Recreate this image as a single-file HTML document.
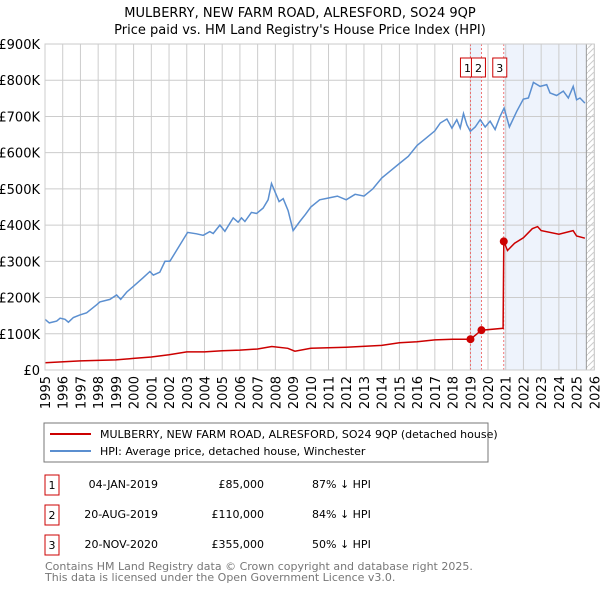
<!DOCTYPE html>
<html><head><meta charset="utf-8"><style>
body{margin:0;background:#fff;font-family:"DejaVu Sans","Liberation Sans",sans-serif;}
svg{display:block}
text{font-family:"DejaVu Sans","Liberation Sans",sans-serif;}
</style></head><body>
<svg id="c" width="600" height="590" xmlns="http://www.w3.org/2000/svg">
<text x="300" y="17" text-anchor="middle" font-size="13">MULBERRY, NEW FARM ROAD, ALRESFORD, SO24 9QP</text>
<text x="300" y="34" text-anchor="middle" font-size="13">Price paid vs. HM Land Registry's House Price Index (HPI)</text>
<g id="plot"></g>
<rect x="44" y="423" width="444" height="39" fill="none" stroke="#777"/>
<line x1="50" y1="434" x2="91" y2="434" stroke="#cc0000" stroke-width="2"/>
<text x="100" y="438" font-size="11">MULBERRY, NEW FARM ROAD, ALRESFORD, SO24 9QP (detached house)</text>
<line x1="50" y1="451" x2="91" y2="451" stroke="#5b8fd0" stroke-width="2"/>
<text x="100" y="455" font-size="11">HPI: Average price, detached house, Winchester</text>
<g font-size="11">
<rect x="45" y="475" width="14" height="20" fill="none" stroke="#cc0000"/><text x="52" y="489" text-anchor="middle">1</text>
<text x="158" y="488" text-anchor="end">04-JAN-2019</text><text x="264" y="488" text-anchor="end">£85,000</text><text x="312" y="488">87% ↓ HPI</text>
<rect x="45" y="505" width="14" height="20" fill="none" stroke="#cc0000"/><text x="52" y="519" text-anchor="middle">2</text>
<text x="158" y="518" text-anchor="end">20-AUG-2019</text><text x="264" y="518" text-anchor="end">£110,000</text><text x="312" y="518">84% ↓ HPI</text>
<rect x="45" y="535" width="14" height="20" fill="none" stroke="#cc0000"/><text x="52" y="549" text-anchor="middle">3</text>
<text x="158" y="548" text-anchor="end">20-NOV-2020</text><text x="264" y="548" text-anchor="end">£355,000</text><text x="312" y="548">50% ↓ HPI</text>
</g>
<text x="45" y="570" font-size="11" fill="#777">Contains HM Land Registry data © Crown copyright and database right 2025.</text>
<text x="45" y="581" font-size="11" fill="#777">This data is licensed under the Open Government Licence v3.0.</text>
</svg>
<script>
const yTicks=[0,100,200,300,400,500,600,700,800,900];
const yTickLabels=["£0","£100K","£200K","£300K","£400K","£500K","£600K","£700K","£800K","£900K"];
const years=[1995,1996,1997,1998,1999,2000,2001,2002,2003,2004,2005,2006,2007,2008,2009,2010,2011,2012,2013,2014,2015,2016,2017,2018,2019,2020,2021,2022,2023,2024,2025,2026];
const hpiT=[1995.0,1995.24,1995.66,1995.85,1996.13,1996.32,1996.6,1996.97,1997.35,1997.91,1998.1,1998.66,1999.04,1999.27,1999.61,2000.08,2000.55,2000.92,2001.11,2001.48,2001.77,2002.05,2002.42,2003.05,2003.55,2003.93,2004.3,2004.49,2004.87,2005.15,2005.62,2005.9,2006.09,2006.28,2006.65,2006.94,2007.31,2007.59,2007.78,2008.21,2008.44,2008.72,2009.0,2009.38,2009.7,2010,2010.5,2011,2011.5,2012,2012.5,2013,2013.5,2014,2014.5,2015,2015.5,2016,2016.5,2017,2017.31,2017.68,2017.96,2018.24,2018.43,2018.62,2018.81,2019.0,2019.28,2019.56,2019.84,2020.12,2020.4,2020.68,2020.91,2021.21,2021.62,2021.99,2022.28,2022.56,2022.94,2023.31,2023.5,2023.87,2024.25,2024.53,2024.81,2025.0,2025.19,2025.47];
const hpiV=[140,130,135,143,140,132,145,152,158,180,188,195,207,195,215,235,255,272,262,270,300,300,330,380,376,372,382,377,400,383,420,408,420,410,435,432,447,470,515,465,473,440,385,410,430,450,470,475,480,470,485,480,500,530,550,570,590,620,640,660,682,693,668,691,668,708,677,659,671,691,671,687,664,700,723,671,714,748,751,794,783,788,765,758,770,751,783,746,751,737];
const ppT=[1995,1997,1999,2000,2001,2002,2003,2004,2005,2006,2007,2007.8,2008.7,2009.1,2010,2012,2014,2015,2016,2017,2018,2019.01,2019.63,2020.85,2020.89,2021.1,2021.5,2022,2022.5,2022.8,2023,2024,2024.8,2025,2025.47];
const ppV=[20,25,28,32,36,42,50,50,53,55,58,65,60,52,60,63,68,75,78,83,85,85,110,115,355,330,350,365,390,396,385,375,385,370,364];
const saleT=[2019.01,2019.63,2020.89];
const saleV=[85,110,355];
const saleLbl=["1","2","3"];
const NS="http://www.w3.org/2000/svg";
const X=t=>45+(t-1995)*17.72, Y=v=>370-v*0.3622;
const g=document.getElementById('plot');
function mk(tag,a,p){const e=document.createElementNS(NS,tag);for(const k in a)e.setAttribute(k,a[k]);(p||g).appendChild(e);return e;}
// shading
let s=mk('rect',{x:X(saleT[0]),y:Y(900),width:X(saleT[1])-X(saleT[0]),height:Y(0)-Y(900),fill:'#eef3fc'});


s=mk('rect',{x:X(saleT[2]),y:Y(900),width:X(2025.55)-X(saleT[2]),height:Y(0)-Y(900),fill:'#eef3fc'});


const defs=mk('defs',{});
const pat=mk('pattern',{id:'h',width:6,height:6,patternUnits:'userSpaceOnUse'},defs);
mk('path',{d:'M0 6L6 0',stroke:'#ccc','stroke-width':1},pat);
s=mk('rect',{x:X(2025.55),y:Y(900),width:X(2026)-X(2025.55),height:Y(0)-Y(900),fill:'url(#h)'});


yTicks.forEach((v,i)=>{
 const l=mk('line',{x1:X(1995),x2:X(2026),y1:Y(v),y2:Y(v),stroke:'#ccc'});
 
 
 const t=mk('text',{x:40,y:Y(v)+5,'text-anchor':'end','font-size':13});t.textContent=yTickLabels[i];
 
 
});
years.forEach(y=>{
 const l=mk('line',{x1:X(y),x2:X(y),y1:Y(900),y2:Y(0),stroke:'#ccc'});
 
 
 const t=mk('text',{x:0,y:0,'text-anchor':'end','font-size':13,transform:`translate(${X(y)+5},376) rotate(-90)`});t.textContent=y;
 
 
});
let el=mk('line',{x1:X(2025.55),x2:X(2025.55),y1:Y(900),y2:Y(0),stroke:'#999'});


saleT.forEach((t,i)=>{
 const l=mk('line',{x1:X(t),x2:X(t),y1:Y(900),y2:Y(0),stroke:'#e55','stroke-dasharray':'2,2','stroke-width':0.8});
 
 
});
const pts=(T,V)=>T.map((t,i)=>X(t).toFixed(1)+','+Y(V[i]).toFixed(1)).join(' ');
el=mk('polyline',{points:pts(hpiT,hpiV),fill:'none',stroke:'#5b8fd0','stroke-width':1.5});


el=mk('polyline',{points:pts(ppT,ppV),fill:'none',stroke:'#cc0000','stroke-width':1.5});


const lblX=[X(saleT[0])-10,X(saleT[1])-10,X(saleT[2])-11];
saleT.forEach((t,i)=>{
 const c=mk('circle',{cx:X(t),cy:Y(saleV[i]),r:4,fill:'#cc0000'});
 
 
 const r=mk('rect',{x:lblX[i],y:58,width:14,height:19,fill:'#fff',stroke:'#cc0000'});
 
 
 const tx=mk('text',{x:lblX[i]+7,y:72,'text-anchor':'middle','font-size':11});tx.textContent=saleLbl[i];
 
 
});
el=mk('rect',{x:X(1995),y:Y(900),width:X(2026)-X(1995),height:Y(0)-Y(900),fill:'none',stroke:'#ccc'});


</script>
</body></html>
